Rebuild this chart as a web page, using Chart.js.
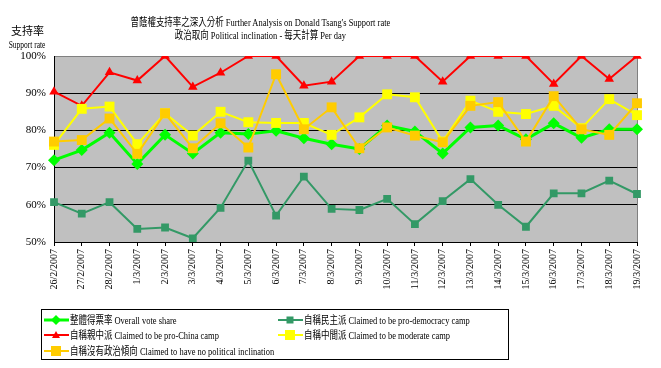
<!DOCTYPE html>
<html>
<head>
<meta charset="utf-8">
<script src="https://cdn.jsdelivr.net/npm/chart.js@4.4.0/dist/chart.umd.min.js"></script>
<style>
  body { margin: 0; background: #fff; }
  #wrap { position: relative; width: 661px; height: 368px; font-family: "Liberation Serif", "Noto Sans CJK TC", serif; color: #000; }
  canvas { position: absolute; left: 0; top: 0; }
  .t { position: absolute; white-space: nowrap; font-size: 11px; line-height: 13px; text-align: center; }
  #title { left: 0; width: 521px; top: 16px; transform: scaleX(0.77); transform-origin: 260px 0; }
  #ytitle { left: 0; width: 55px; top: 25px; }
  #ytitle .en { display: inline-block; transform: scaleX(0.68); }
  #legend { position: absolute; left: 41px; top: 309px; width: 468px; height: 51px; border: 1px solid #000; box-sizing: border-box; }
  .item { position: absolute; display: flex; align-items: center; font-size: 11px; line-height: 14px; white-space: nowrap; }
  .item svg { margin-right: 1px; flex: none; }
  .item span { display: inline-block; transform: scaleX(0.77); transform-origin: 0 50%; }
</style>
</head>
<body>
<div id="wrap">
  <canvas id="chart" width="661" height="368"></canvas>
  <div class="t" id="title">曾蔭權支持率之深入分析 Further Analysis on Donald Tsang's Support rate<br>政治取向 Political inclination - 每天計算 Per day</div>
  <div class="t" id="ytitle">支持率<br><span class="en">Support rate</span></div>
  <div id="legend"></div>
</div>
<script>
// Data
const dates = ['26/2/2007', '27/2/2007', '28/2/2007', '1/3/2007', '2/3/2007', '3/3/2007', '4/3/2007',
    '5/3/2007', '6/3/2007', '7/3/2007', '8/3/2007', '9/3/2007', '10/3/2007', '11/3/2007', '12/3/2007',
    '13/3/2007', '14/3/2007', '15/3/2007', '16/3/2007', '17/3/2007', '18/3/2007', '19/3/2007'];

const overall = [72.0, 74.7, 79.4, 71.0, 78.8, 73.8, 79.4, 79.0, 79.9, 77.9, 76.3, 75.0, 81.3, 79.7, 73.8, 80.8, 81.3, 77.6, 81.9, 78.0, 80.3, 80.3];
const proDemocracy = [60.7, 57.6, 60.7, 53.5, 53.9, 51.0, 59.2, 71.9, 57.1, 67.6, 58.9, 58.6, 61.6, 54.8, 61.0, 66.9, 60.0, 54.1, 63.1, 63.1, 66.5, 62.9];
const proChina = [90.4, 86.6, 95.6, 93.4, 100, 91.7, 95.5, 100, 100, 92.0, 93.1, 100, 100, 100, 93.1, 100, 100, 100, 92.5, 100, 93.8, 100];
const moderate = [76.1, 85.8, 86.4, 76.3, 84.6, 78.6, 85.0, 82.2, 82.0, 82.0, 78.8, 83.5, 89.7, 88.9, 77.0, 88.0, 85.0, 84.4, 86.6, 80.6, 88.4, 84.1];
const noInclination = [77.0, 77.4, 83.2, 73.7, 84.6, 75.2, 81.9, 75.4, 95.1, 80.3, 86.2, 75.2, 80.8, 78.6, 76.8, 86.6, 87.6, 77.0, 89.2, 80.3, 78.8, 87.3];

const yTicks = [50, 60, 70, 80, 90, 100];

const seriesNames = [
    '整體得票率 Overall vote share',
    '自稱民主派 Claimed to be pro-democracy camp',
    '自稱親中派 Claimed to be pro-China camp',
    '自稱中間派 Claimed to be moderate camp',
    '自稱沒有政治傾向 Claimed to have no political inclination'
];

const styles = [
    { color: '#00FF00', point: 'rectRot', radius: 6, width: 3 },
    { color: '#339966', point: 'rect', radius: 5.5, width: 2 },
    { color: '#FF0000', point: 'triangle', radius: 5.5, width: 2 },
    { color: '#FFFF00', point: 'rect', radius: 7, width: 2 },
    { color: '#FFCC00', point: 'rect', radius: 7, width: 2 }
];
const allSeries = [overall, proDemocracy, proChina, moderate, noInclination];

// Gray plot background with gray frame
const plotBg = {
    id: 'plotBg',
    beforeDraw(chart) {
        const { ctx, chartArea: a } = chart;
        ctx.save();
        ctx.fillStyle = '#C0C0C0';
        ctx.fillRect(a.left, a.top, a.right - a.left, a.bottom - a.top);
        ctx.strokeStyle = '#808080';
        ctx.lineWidth = 1;
        ctx.strokeRect(a.left + 0.5, a.top + 0.5, a.right - a.left, a.bottom - a.top);
        ctx.restore();
    }
};

const datasets = allSeries.map((data, i) => ({
    label: seriesNames[i],
    data: data,
    borderColor: styles[i].color,
    backgroundColor: styles[i].color,
    borderWidth: styles[i].width,
    pointStyle: styles[i].point,
    pointRadius: styles[i].radius,
    pointBorderWidth: 0,
    pointBackgroundColor: styles[i].color,
    tension: 0,
    order: allSeries.length - i
}));

new Chart(document.getElementById('chart'), {
    type: 'line',
    data: { labels: dates, datasets: datasets },
    options: {
        responsive: false,
        animation: false,
        layout: { padding: { top: 56, right: 24, left: 0, bottom: 0 } },
        plugins: { legend: { display: false }, tooltip: { enabled: false } },
        scales: {
            x: {
                offset: false,
                grid: { drawOnChartArea: false, color: '#000', tickLength: 4 },
                border: { color: '#000', width: 1 },
                ticks: {
                    color: '#000', minRotation: 90, maxRotation: 90, autoSkip: false, padding: 3,
                    font: { family: 'Liberation Serif', size: 10 }
                },
                afterFit(scale) { scale.height = 126; }
            },
            y: {
                min: 50, max: 100,
                afterBuildTicks(scale) { scale.ticks = yTicks.map(v => ({ value: v })); },
                grid: {
                    drawTicks: false,
                    color: ctx => ctx.tick && ctx.tick.value === 100 ? '#808080' : '#000'
                },
                border: { color: '#000', width: 1 },
                ticks: {
                    color: '#000', padding: 8,
                    font: { family: 'Liberation Serif', size: 11 },
                    callback: v => v + '%'
                },
                afterFit(scale) { scale.width = 54; }
            }
        }
    },
    plugins: [plotBg]
});

// HTML legend with line + marker samples
const legendPos = [[2, 3], [236, 3], [2, 18], [236, 18], [2, 34]];
const legend = document.getElementById('legend');
seriesNames.forEach((name, i) => {
    const s = styles[i];
    let marker = '';
    if (s.point === 'rectRot') marker = '<polygon points="12,1 17,6 12,11 7,6" fill="' + s.color + '"/>';
    else if (s.point === 'triangle') marker = '<polygon points="12,2 16,9 8,9" fill="' + s.color + '"/>';
    else {
        const h = s.radius > 6 ? 5 : 3.5;
        marker = '<rect x="' + (12 - h) + '" y="' + (6 - h) + '" width="' + (2 * h) + '" height="' + (2 * h) + '" fill="' + s.color + '"/>';
    }
    const item = document.createElement('div');
    item.className = 'item';
    item.style.left = legendPos[i][0] + 'px';
    item.style.top = legendPos[i][1] + 'px';
    item.innerHTML = '<svg width="25" height="12"><line x1="0" y1="6" x2="25" y2="6" stroke="' + s.color +
        '" stroke-width="' + s.width + '"/>' + marker + '</svg><span>' + name + '</span>';
    legend.appendChild(item);
});
</script>
</body>
</html>
